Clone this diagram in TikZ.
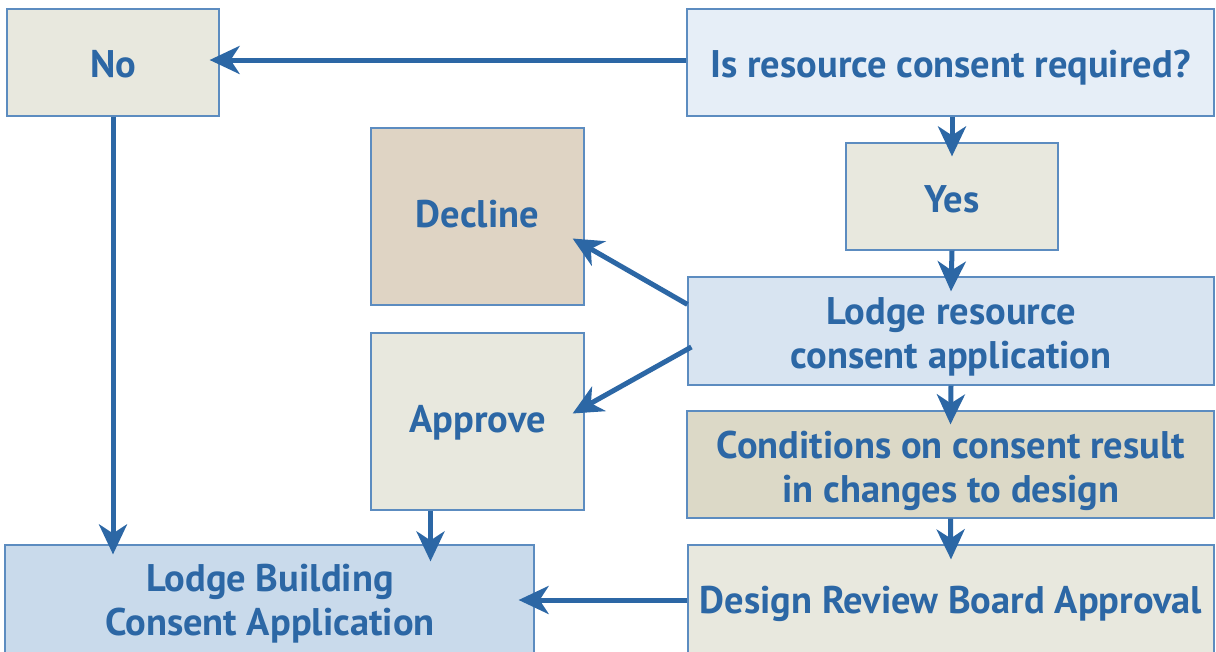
\documentclass[tikz,border=0pt]{standalone}
\usepackage{fontspec}
\setmainfont{PT Sans}
\usetikzlibrary{arrows.meta,calc}
\definecolor{tblue}{RGB}{44,103,165}
\definecolor{bord}{RGB}{92,140,192}
\definecolor{cbeige}{RGB}{232,232,222}
\definecolor{cpale}{RGB}{230,238,247}
\definecolor{ctan}{RGB}{223,212,196}
\definecolor{clight}{RGB}{216,228,241}
\definecolor{ckhaki}{RGB}{220,217,199}
\definecolor{cblue}{RGB}{201,218,235}
\begin{document}
\begin{tikzpicture}[x=1pt,y=-1pt,
  box/.style={draw=bord, line width=1.2pt, inner sep=0pt},
  txt/.style={inner sep=0pt, font=\bfseries\fontsize{38.5}{44}\selectfont, text=tblue, align=center, anchor=base},
  arr/.style={draw=tblue, line width=5pt, -{Stealth[length=30pt,width=28pt,inset=9pt]}}]
\useasboundingbox (0,0) rectangle (1216,651);
\node[box, fill=cbeige, minimum width=212pt, minimum height=107pt] (no) at (113,62.5) {};
\node[box, fill=cpale, minimum width=527pt, minimum height=107pt] (isres) at (950.5,62.5) {};
\node[box, fill=ctan, minimum width=213pt, minimum height=177pt] (decline) at (477.5,216.5) {};
\node[box, fill=cbeige, minimum width=212pt, minimum height=107pt] (yes) at (952,196.5) {};
\node[box, fill=clight, minimum width=526pt, minimum height=108pt] (lodgeres) at (951,331) {};
\node[box, fill=cbeige, minimum width=213pt, minimum height=177pt] (approve) at (477.5,421.5) {};
\node[box, fill=ckhaki, minimum width=527pt, minimum height=107pt] (cond) at (950.5,464.5) {};
\node[box, fill=cbeige, minimum width=526pt, minimum height=110pt] (design) at (951,600) {};
\node[box, fill=cblue, minimum width=529pt, minimum height=114pt] (lodgeb) at (269.5,602) {};
\node[txt] (tno) at (113,77) {No};
\node[txt] (tisres) at (950.5,77) {Is resource consent required?};
\node[txt] (tdecline) at (477.5,227) {Decline};
\node[txt] (tyes) at (952,212) {Yes};
\node[txt] (tlodgeres) at (951,368) {Lodge resource\\consent application};
\node[txt] (tapprove) at (477.5,432) {Approve};
\node[txt] (tcond) at (951,502) {Conditions on consent result\\in changes to design};
\node[txt] (tdesign) at (951,613) {Design Review Board Approval};
\node[txt] (tlodgeb) at (270,635) {Lodge Building\\Consent Application};
\draw[arr] (isres.west |- 0,60) -- ([xshift=-10pt]no.east |- 0,60);
\draw[arr] (no.south) -- ([yshift=-10pt]no.south |- lodgeb.north);
\draw[arr] (yes.north |- isres.south) -- ([yshift=-14pt]yes.north);
\draw[arr] (yes.south) -- ([yshift=-15pt]lodgeres.north);
\draw[arr] ([yshift=-28pt]lodgeres.north west) -- ([xshift=-12pt,yshift=-22pt]decline.east);
\draw[arr] ([xshift=4pt,yshift=-16pt]lodgeres.west) -- ([xshift=-12pt,yshift=8pt]approve.east);
\draw[arr] (lodgeres.south) -- ([yshift=-14pt]cond.north);
\draw[arr] (cond.south) -- ([yshift=-15pt]design.north);
\draw[arr] ([xshift=-47pt]approve.south) -- ([xshift=-47pt,yshift=-17pt]approve.south |- lodgeb.north);
\draw[arr] (design.west) -- ([xshift=-16pt]lodgeb.east |- design.west);
\end{tikzpicture}
\end{document}
